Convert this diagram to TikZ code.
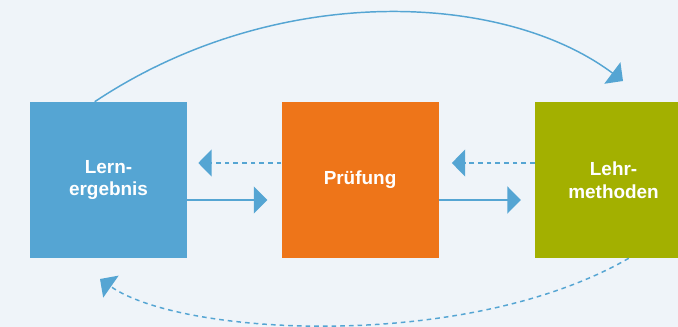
\documentclass[tikz,border=0pt]{standalone}
\usepackage{fontspec}
\setmainfont{Liberation Sans}
\usetikzlibrary{arrows.meta,positioning}
\definecolor{bgpale}{RGB}{239,244,249}
\definecolor{lernblue}{RGB}{85,165,211}
\definecolor{pruefor}{RGB}{238,117,25}
\definecolor{lehrgreen}{RGB}{163,176,0}
\tikzset{
	box/.style={minimum width=117.75pt, minimum height=117pt, inner sep=0pt, text=white, align=center, font=\fontsize{14.2}{17}\selectfont\bfseries},
	flow/.style={draw=lernblue, line width=1.5pt, -{Triangle[length=10pt,width=20pt]}},
	back/.style={flow, dash pattern=on 3.5pt off 3pt},
}

\begin{document}
\begin{tikzpicture}[x=0.75pt, y=-0.75pt]
		%%%%% START %%%%%
		
		\useasboundingbox (0,0) rectangle (678,327);
		\fill[bgpale] (0,0) rectangle (678,327);
		\clip (0,0) rectangle (678,327);
		
		\node[box, fill=lernblue] (lern) at (108.5,180) {Lern-\\ergebnis};
		\node[box, fill=pruefor, right=70.5pt of lern] (pruef) {Prüfung};
		\node[box, fill=lehrgreen, right=72pt of pruef] (lehr) {Lehr-\\methoden};
		
		% forward (solid) and back (dashed) between neighbours
		\draw[flow, shorten >=10.5pt] ([yshift=-15pt]lern.east) -- ([yshift=-15pt]pruef.west);
		\draw[back, shorten >=8.25pt] ([yshift=12.75pt]pruef.west) -- ([yshift=12.75pt]lern.east);
		\draw[flow, shorten >=10.5pt] ([yshift=-15pt]pruef.east) -- ([yshift=-15pt]lehr.west);
		\draw[back, shorten >=9.75pt] ([yshift=12.75pt]lehr.west) -- ([yshift=12.75pt]pruef.east);
		
		% long arcs over and under
		\coordinate (toptip) at (623,81);
		\coordinate (bottip) at (100,279);
		\draw[flow, line width=1.1pt] (lern.100.5) .. controls +(180,-120) and +(-120,-90) .. (toptip);
		\draw[back, line width=1.1pt] (lehr.-79) .. controls +(-161.6,93.3) and +(81.9,57.4) .. (bottip);
		
		%%%%% END %%%%%
	\end{tikzpicture}
\end{document}
